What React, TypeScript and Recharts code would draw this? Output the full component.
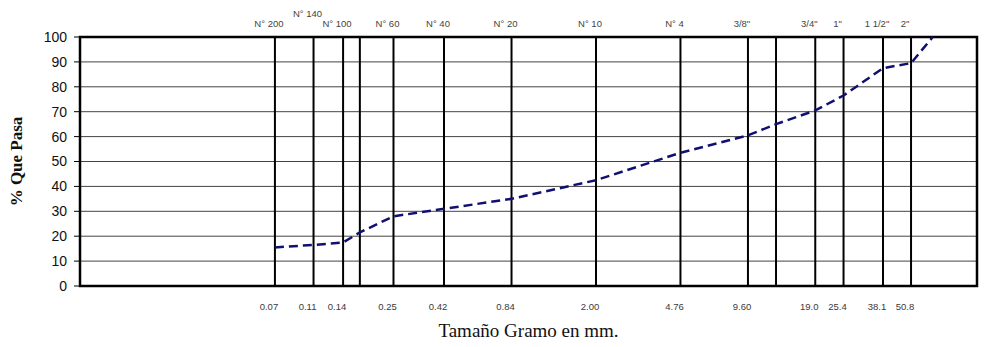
import { CartesianGrid, Label, Line, LineChart, ReferenceArea, ReferenceLine, XAxis, YAxis } from 'recharts';

// Sieve openings (mm), the ASTM sieve names above them and the size printed below.
const sieveSizes = [0.074, 0.11, 0.149, 0.177, 0.25, 0.42, 0.84, 2.0, 4.76, 9.52, 12.7, 19.0, 25.4, 38.1, 50.8];
const sieveNames = ['N° 200', 'N° 140', 'N° 100', '', 'N° 60', 'N° 40', 'N° 20', 'N° 10', 'N° 4', '3/8"', '', '3/4"', '1"', '1 1/2"', '2"'];
const sizeLabels = ['0.07', '0.11', '0.14', '', '0.25', '0.42', '0.84', '2.00', '4.76', '9.60', '', '19.0', '25.4', '38.1', '50.8'];

// Granulometric curve: grain size (mm) vs. percent passing.
const curveSizes = [0.074, 0.11, 0.149, 0.177, 0.25, 0.42, 0.84, 2.0, 4.76, 9.52, 12.7, 19.0, 25.4, 38.1, 50.8, 63.5];
const curvePassing = [15.5, 16.5, 17.5, 21.5, 28, 31, 35, 42.5, 53.5, 60.5, 65, 70.5, 76.5, 87.5, 89.5, 100];

const yTicks = [0, 10, 20, 30, 40, 50, 60, 70, 80, 90, 100];

const data = curveSizes.map((size, i) => ({ size, passing: curvePassing[i] }));

const labelledSizes = sieveSizes.filter((_, i) => sizeLabels[i] !== '');
const namedSizes = sieveSizes.filter((_, i) => sieveNames[i] !== '');

function BottomTick({ x, y, payload }: any) {
  const i = sieveSizes.indexOf(payload.value);
  return (
    <text x={x - 6} y={y + 16} textAnchor="middle" fontSize={9.5} fill="#3a3a3a" fontFamily="Liberation Sans, Arial, sans-serif">
      {sizeLabels[i]}
    </text>
  );
}

function TopTick({ x, payload }: any) {
  const i = sieveSizes.indexOf(payload.value);
  const raised = sieveNames[i] === 'N° 140';
  return (
    <text x={x - 6} y={raised ? 17 : 27} textAnchor="middle" fontSize={9.5} fill="#444" fontFamily="Liberation Sans, Arial, sans-serif">
      {sieveNames[i]}
    </text>
  );
}

export default function App() {
  return (
    <div style={{ position: 'absolute', left: 0, top: 0, background: '#fff' }}>
      <LineChart width={989} height={347} data={data} margin={{ top: 0, right: 12, bottom: 0, left: 0 }}>
        <CartesianGrid vertical={false} stroke="#444" strokeWidth={1} yAxisId="y" xAxisId="bottom" />
        <XAxis
          xAxisId="bottom"
          dataKey="size"
          type="number"
          scale="log"
          domain={[0.01, 100]}
          allowDataOverflow
          ticks={labelledSizes}
          tick={<BottomTick />}
          tickLine={false}
          axisLine={false}
          height={61}
          interval={0}
        >
          <Label
            value="Tamaño Gramo en mm."
            position="insideBottom"
            offset={10}
            style={{ fontFamily: 'Liberation Serif, Times New Roman, serif', fontSize: 19, fill: '#111' }}
          />
        </XAxis>
        <XAxis
          xAxisId="top"
          orientation="top"
          dataKey="size"
          type="number"
          scale="log"
          domain={[0.01, 100]}
          allowDataOverflow
          ticks={namedSizes}
          tick={<TopTick />}
          tickLine={false}
          axisLine={false}
          height={37}
          interval={0}
        />
        <YAxis
          yAxisId="y"
          type="number"
          domain={[0, 100]}
          ticks={yTicks}
          interval={0}
          width={80}
          tickSize={6}
          tickMargin={7}
          tickLine={{ stroke: '#000' }}
          axisLine={false}
          tick={{ fontSize: 14, fill: '#111', fontFamily: 'Liberation Sans, Arial, sans-serif' }}
        >
          <Label
            value="% Que Pasa"
            angle={-90}
            position="insideLeft"
            offset={16}
            style={{ textAnchor: 'middle', fontFamily: 'Liberation Serif, Times New Roman, serif', fontSize: 17, fontWeight: 'bold', fill: '#111' }}
          />
        </YAxis>
        {sieveSizes.map(size => (
          <ReferenceLine key={size} x={size} xAxisId="bottom" yAxisId="y" stroke="#000" strokeWidth={2} />
        ))}
        <ReferenceArea
          x1={0.01}
          x2={100}
          y1={0}
          y2={100}
          xAxisId="bottom"
          yAxisId="y"
          fill="none"
          stroke="#000"
          strokeWidth={2.5}
          ifOverflow="visible"
        />
        <Line
          xAxisId="bottom"
          yAxisId="y"
          type="linear"
          dataKey="passing"
          stroke="#101070"
          strokeWidth={2.5}
          strokeDasharray="9 5"
          dot={false}
          isAnimationActive={false}
        />
      </LineChart>
    </div>
  );
}
